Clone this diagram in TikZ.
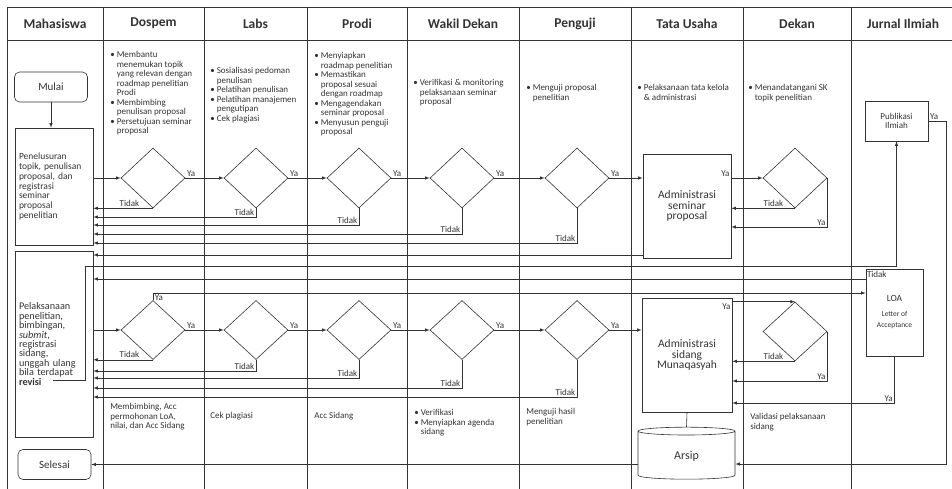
\documentclass[tikz,border=0pt]{standalone}
\usepackage{fontspec}
\setmainfont{Carlito}
\usetikzlibrary{arrows,calc,positioning,shapes}
\tikzstyle{lane}=[line width=0.6pt]
\tikzstyle{head}=[font=\fontsize{13.5}{15}\selectfont\bfseries]
\tikzstyle{decision}=[draw, diamond, minimum width=64pt, minimum height=60pt, inner sep=0pt, node distance=103pt]
\tikzstyle{task}=[draw, rectangle, inner sep=2pt, align=center]
\tikzstyle{terminal}=[draw, rectangle, rounded corners=5pt, minimum width=73pt, minimum height=30pt, font=\fontsize{11}{13}\selectfont]
\tikzstyle{archive}=[draw, cylinder, shape border rotate=90, aspect=0.25, minimum width=97pt, minimum height=52pt, font=\fontsize{12}{14}\selectfont]
\tikzstyle{desc}=[anchor=north west, align=left, inner sep=0pt, font=\fontsize{9}{9.5}\selectfont]
\tikzstyle{lbl}=[inner sep=1.5pt, font=\fontsize{9}{10}\selectfont]
\newcommand{\itm}{\makebox[6.5pt][l]{\textbullet}}
\newcommand{\cnt}{\hspace*{6.5pt}}
\begin{document}
\begin{tikzpicture}[x=1pt, y=-1pt, >=latex, line width=0.6pt, color=black!80]
    \useasboundingbox (0,0) rectangle (952,489);
    % swimlanes
    \draw [lane] (7,7) -- (952,7);
    \draw [lane] (7,40) -- (952,40);
    \draw [lane] (7,7) -- (7,489);
    \draw [lane] (103,7) -- (103,489);
    \draw [lane] (204,7) -- (204,489);
    \draw [lane] (307,7) -- (307,489);
    \draw [lane] (407,7) -- (407,489);
    \draw [lane] (519,7) -- (519,489);
    \draw [lane] (631,7) -- (631,489);
    \draw [lane] (743,7) -- (743,489);
    \draw [lane] (851,7) -- (851,489);
    \node (hmhs) [head] at (55,23.5) {Mahasiswa};
    \node (hdsp) [head] at (153.5,23.5) {Dospem};
    \node (hlab) [head] at (255.5,23.5) {Labs};
    \node (hprd) [head] at (357,23.5) {Prodi};
    \node (hwd) [head] at (463,23.5) {Wakil Dekan};
    \node (hpgj) [head] at (575,23.5) {Penguji};
    \node (htu) [head] at (687,23.5) {Tata Usaha};
    \node (hdkn) [head] at (797,23.5) {Dekan};
    \node (hjrn) [head] at (903,23.5) {Jurnal Ilmiah};
    %
    \node (mulai) [terminal] at (51,87) {Mulai};
    \node (tahap1) [task, minimum width=78pt, minimum height=117pt, text width=70pt, align=left, font=\fontsize{9.5}{9.7}\selectfont] at (54,186.5) {Penelusuran\\topik, penulisan\\proposal, dan\\registrasi\\seminar\\proposal\\penelitian};
    \node (tahap2) [task, minimum width=78pt, minimum height=186pt, text width=70pt, align=left, font=\fontsize{10.2}{9.4}\selectfont] at (54,344) {Pelaksanaan\\penelitian,\\bimbingan,\\\textit{submit},\\registrasi\\sidang,\\unggah ulang\\bila terdapat\\\textbf{revisi}};
    \node (selesai) [terminal] at (54.5,464.5) {Selesai};
    \coordinate (rev) at (53,380);
    %
    \node (dsp1) [decision] at (153,178) {};
    \node (lab1) [decision, right of=dsp1] {};
    \node (prd1) [decision, right of=lab1] {};
    \node (wd1) [decision, right of=prd1] {};
    \node (pgj1) [decision, right of=wd1, node distance=115pt] {};
    \node (dsp2) [decision, minimum height=59pt] at (153,330) {};
    \node (lab2) [decision, minimum height=59pt, right of=dsp2] {};
    \node (prd2) [decision, minimum height=59pt, right of=lab2] {};
    \node (wd2) [decision, minimum height=59pt, right of=prd2] {};
    \node (pgj2) [decision, minimum height=59pt, right of=wd2, node distance=115pt] {};
    %
    \node (adm1) [task, minimum width=88pt, minimum height=104pt, font=\fontsize{11.5}{10.5}\selectfont] at (687,206) {Administrasi\\seminar\\proposal};
    \node (adm2) [task, minimum width=90pt, minimum height=114pt, font=\fontsize{11.5}{10.5}\selectfont] at (687,355) {Administrasi\\sidang\\Munaqasyah};
    \node (arsip) [archive] at (686.5,456) {Arsip};
    \node (dkn1) [decision] at (795,178) {};
    \node (dkn2) [decision, minimum height=59pt] at (795,331.5) {};
    \node (pub) [task, minimum width=63pt, minimum height=40pt, font=\fontsize{9}{9.5}\selectfont] at (896.5,121) {Publikasi\\Ilmiah};
    \node (loa) [task, minimum width=57pt, minimum height=87pt, font=\fontsize{9.5}{11}\selectfont] at (894.5,312.5) {LOA\\[4pt]{\fontsize{7.5}{8.5}\selectfont Letter of}\\{\fontsize{7.5}{8.5}\selectfont Acceptance}};
    \coordinate (turn) at (946,464);
    %
    \node (dsp1txt) [desc] at (110,51) {\itm Membantu\\\cnt menemukan topik\\\cnt yang relevan dengan\\\cnt roadmap penelitian\\\cnt Prodi\\\itm Membimbing\\\cnt penulisan proposal\\\itm Persetujuan seminar\\\cnt proposal};
    \node (lab1txt) [desc] at (210,67) {\itm Sosialisasi pedoman\\\cnt penulisan\\\itm Pelatihan penulisan\\\itm Pelatihan manajemen\\\cnt pengutipan\\\itm Cek plagiasi};
    \node (prd1txt) [desc] at (314,52) {\itm Menyiapkan\\\cnt roadmap penelitian\\\itm Memastikan\\\cnt proposal sesuai\\\cnt dengan roadmap\\\itm Mengagendakan\\\cnt seminar proposal\\\itm Menyusun penguji\\\cnt proposal};
    \node (wd1txt) [desc] at (413,79) {\itm Verifikasi \& monitoring\\\cnt pelaksanaan seminar\\\cnt proposal};
    \node (pgj1txt) [desc] at (526,84) {\itm Menguji proposal\\\cnt penelitian};
    \node (tu1txt) [desc] at (637,84) {\itm Pelaksanaan tata kelola\\\cnt \& administrasi};
    \node (dkn1txt) [desc] at (748,84) {\itm Menandatangani SK\\\cnt topik penelitian};
    \node (dsp2txt) [desc] at (110,403) {Membimbing, Acc\\permohonan LoA,\\nilai, dan Acc Sidang};
    \node (lab2txt) [desc] at (210,412) {Cek plagiasi};
    \node (prd2txt) [desc] at (314,412) {Acc Sidang};
    \node (wd2txt) [desc] at (414,409) {\itm Verifikasi\\\itm Menyiapkan agenda\\\cnt sidang};
    \node (pgj2txt) [desc] at (526,408) {Menguji hasil\\penelitian};
    \node (dkn2txt) [desc] at (750,413) {Validasi pelaksanaan\\sidang};
    %
    \draw [->] (mulai.south) -- (mulai.south |- tahap1.north);
    \draw [->] (tahap1.east |- dsp1.west) -- (dsp1.west);
    \draw [->] (dsp1.east) -- (lab1.west) node[lbl, pos=0, anchor=south west] {Ya};
    \draw [->] (lab1.east) -- (prd1.west) node[lbl, pos=0, anchor=south west] {Ya};
    \draw [->] (prd1.east) -- (wd1.west) node[lbl, pos=0, anchor=south west] {Ya};
    \draw [->] (wd1.east) -- (pgj1.west) node[lbl, pos=0, anchor=south west] {Ya};
    \draw [->] (pgj1.east) -- (adm1.west |- pgj1.east) node[lbl, pos=0, anchor=south west] {Ya};
    \draw [->] (dsp1.south) -- (tahap1.east |- dsp1.south) node[lbl, pos=0, anchor=south east, xshift=-12pt] {Tidak};
    \draw [->] (lab1.south) |- (tahap1.east |- 0,217) node[lbl, pos=0.5, anchor=south east] {Tidak};
    \draw [->] (prd1.south) |- (tahap1.east |- 0,225) node[lbl, pos=0.5, anchor=south east] {Tidak};
    \draw [->] (wd1.south) |- (tahap1.east |- 0,234) node[lbl, pos=0.5, anchor=south east] {Tidak};
    \draw [->] (pgj1.south) |- (tahap1.east |- 0,243) node[lbl, pos=0.5, anchor=south east] {Tidak};
    \draw [->] (adm1.east |- dkn1.west) -- (dkn1.west) node[lbl, pos=0, anchor=south east] {Ya};
    \draw [->] (dkn1.south) -- (adm1.east |- dkn1.south) node[lbl, pos=0, anchor=south east, xshift=-10pt] {Tidak};
    \draw [->] (dkn1.east) |- (adm1.east |- 0,227) node[lbl, pos=0.5, anchor=south east] {Ya};
    \draw [->] (adm1.west |- 0,255) -- (tahap2.east |- 0,255);
    \draw [->] (rev) -- ++(32,0) |- (pub.south |- 0,266) -- (pub.south);
    \draw [->] (loa.west |- 0,279) -- (tahap2.east |- 0,279) node[lbl, pos=0, anchor=south west, inner sep=1pt] {Tidak};
    \draw [->] (dsp2.north) |- (loa.west |- 0,293) node[lbl, pos=0.5, anchor=north west] {Ya};
    %
    \draw [->] (tahap2.east |- dsp2.west) -- (dsp2.west);
    \draw [->] (dsp2.east) -- (lab2.west) node[lbl, pos=0, anchor=south west] {Ya};
    \draw [->] (lab2.east) -- (prd2.west) node[lbl, pos=0, anchor=south west] {Ya};
    \draw [->] (prd2.east) -- (wd2.west) node[lbl, pos=0, anchor=south west] {Ya};
    \draw [->] (wd2.east) -- (pgj2.west) node[lbl, pos=0, anchor=south west] {Ya};
    \draw [->] (pgj2.east) -- (adm2.west |- pgj2.east) node[lbl, pos=0, anchor=south west] {Ya};
    \draw [->] (dsp2.south) -- (tahap2.east |- dsp2.south) node[lbl, pos=0, anchor=south east, xshift=-12pt] {Tidak};
    \draw [->] (lab2.south) |- (tahap2.east |- 0,371) node[lbl, pos=0.5, anchor=south east] {Tidak};
    \draw [->] (prd2.south) |- (tahap2.east |- 0,378) node[lbl, pos=0.5, anchor=south east] {Tidak};
    \draw [->] (wd2.south) |- (tahap2.east |- 0,388) node[lbl, pos=0.5, anchor=south east] {Tidak};
    \draw [->] (pgj2.south) |- (tahap2.east |- 0,397) node[lbl, pos=0.5, anchor=south east] {Tidak};
    \draw [->] (adm2.east |- dkn2.north) -- (dkn2.north) node[lbl, pos=0, anchor=north east] {Ya};
    \draw [->] (dkn2.south) -- (adm2.east |- dkn2.south) node[lbl, pos=0, anchor=south east, xshift=-10pt] {Tidak};
    \draw [->] (dkn2.east) |- (adm2.east |- 0,381) node[lbl, pos=0.5, anchor=south east] {Ya};
    \draw [->] (loa.south) |- (adm2.east |- 0,403) node[lbl, pos=0.5, anchor=south east] {Ya};
    \draw (adm2.south) -- (arsip.north);
    \draw [->] (pub.east) node[lbl, anchor=south west] {Ya} -| (turn) -- (arsip.east |- turn);
    \draw [->] (arsip.west |- selesai.east) -- (selesai.east);
\end{tikzpicture}
\end{document}
